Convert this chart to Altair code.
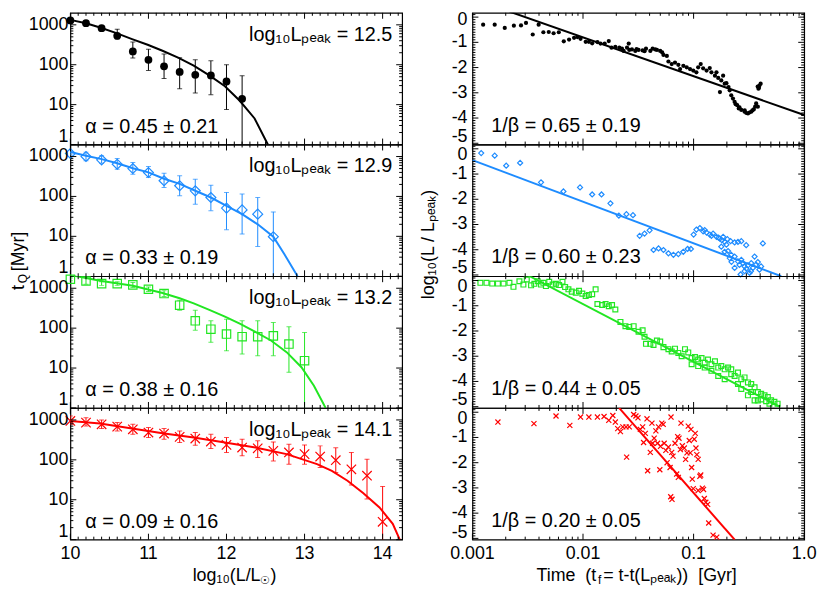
import altair as alt
import pandas as pd

FONT = "Liberation Sans"
PW, PH = 335, 133
COLORS = ["#000000", "#1E8CFF", "#22E622", "#FF0000"]

# ---------------- left column: t_Q [Myr] vs log10(L/Lsun) ----------------
lum_1 = [10.0, 10.2, 10.4, 10.6, 10.8, 11.0, 11.2, 11.4, 11.6, 11.8, 12.0, 12.2]
tq_1 = [1290, 1100, 825, 530, 215, 133, 91, 66, 56, 54, 38, 14]
tq_lo_1 = [1200, 1020, 760, 440, 147, 72, 45, 25, 19.6, 17.8, 7.5, 0.9]
tq_hi_1 = [1380, 1180, 890, 780, 370, 245, 185, 150, 133, 125, 100, 53]
fit_lum_1 = [10.0, 10.2, 10.38, 10.59, 10.79, 10.99, 11.18, 11.38, 11.58, 11.78, 11.98, 12.17, 12.36, 12.53]
fit_tq_1 = [1330, 1100, 860, 620, 440, 316, 224, 150, 95, 54, 29, 12.5, 4.5, 1.0]

lum_2 = [10.0, 10.2, 10.4, 10.6, 10.8, 11.0, 11.2, 11.4, 11.6, 11.8, 12.0, 12.2, 12.4, 12.6]
tq_2 = [1190, 1000, 826, 643, 500, 398, 247, 185, 138, 94, 51, 46, 36, 9.8]
tq_lo_2 = [1100, 780, 680, 480, 360, 300, 168, 104, 64, 44, 14.7, 11.4, 5.6, 0.9]
tq_hi_2 = [1300, 1290, 1040, 890, 710, 560, 383, 330, 270, 192, 126, 115, 94, 41]
fit_lum_2 = [10.0, 10.2, 10.4, 10.6, 10.8, 11.0, 11.2, 11.4, 11.6, 11.8, 12.0, 12.2, 12.4, 12.6, 12.74, 12.91]
fit_tq_2 = [1300, 1050, 860, 680, 510, 400, 277, 207, 139, 94, 58, 36, 20, 9.8, 3.6, 1.0]

lum_3 = [10.0, 10.2, 10.4, 10.6, 10.8, 11.0, 11.2, 11.4, 11.6, 11.8, 12.0, 12.2, 12.4, 12.6, 12.8, 13.0]
tq_3 = [1680, 1520, 1308, 1308, 1212, 944, 736, 376, 153, 94, 71, 61, 61, 64, 40, 15.3]
tq_lo_3 = [1550, 1260, 1180, 1180, 1050, 830, 620, 282, 89, 44, 27, 22.4, 20.3, 20.3, 7.8, 0.9]
tq_hi_3 = [1800, 1920, 1450, 1450, 1400, 1080, 870, 500, 282, 153, 168, 153, 153, 139, 108, 78]
fit_lum_3 = [10.0, 10.38, 10.8, 11.18, 11.4, 11.58, 11.78, 11.98, 12.17, 12.37, 12.57, 12.77, 12.96, 13.12, 13.27]
fit_tq_3 = [2150, 1550, 1150, 760, 562, 417, 288, 195, 129, 81, 49, 25, 10.5, 3.6, 1.0]

lum_4 = [10.0, 10.2, 10.4, 10.6, 10.8, 11.0, 11.2, 11.4, 11.6, 11.8, 12.0, 12.2, 12.4, 12.6,
         12.8, 13.0, 13.2, 13.4, 13.6, 13.8, 14.0]
tq_4 = [944, 858, 779, 681, 584, 482, 455, 376, 342, 287, 237, 203, 195, 168, 153, 139, 121, 98, 58, 40, 2.8]
tq_lo_4 = [780, 710, 607, 530, 437, 361, 330, 271, 232, 192, 153, 126, 114, 94, 78, 78, 64, 48, 23.3, 10.5, 0.9]
tq_hi_4 = [1260, 1140, 1000, 858, 780, 643, 607, 530, 482, 437, 361, 330, 299, 282, 247, 237, 224, 200, 153, 104, 21.5]
fit_lum_4 = [10.0, 10.38, 10.79, 11.18, 11.58, 11.98, 12.37, 12.77, 13.16, 13.35, 13.55, 13.75, 13.96, 14.13, 14.22]
fit_tq_4 = [944, 810, 607, 464, 361, 271, 203, 139, 78, 53, 30, 14.7, 6.4, 2.5, 1.0]

peak_labels = ["12.5", "12.9", "13.2", "14.1"]
alpha_labels = ["0.45 ± 0.21", "0.33 ± 0.19", "0.38 ± 0.16", "0.09 ± 0.16"]

# ---------------- right column: log10(L/Lpeak) vs time (t, Gyr) ----------------
decay_1 = [(0.00125, -0.30), (0.00159, -0.30), (0.00196, -0.43), (0.00237, -0.34), (0.00275, -0.33),
           (0.00305, -0.23), (0.00351, -0.69), (0.00397, -0.30), (0.00438, -0.60), (0.0049, -0.59),
           (0.00542, -0.64), (0.00604, -0.60), (0.0067, -0.96), (0.00748, -0.89), (0.0083, -0.82),
           (0.0089, -0.79), (0.0095, -0.86), (0.01057, -0.98), (0.0113, -0.98), (0.0121, -1.04),
           (0.0135, -0.99), (0.0144, -1.05), (0.0157, -1.05), (0.0171, -0.95), (0.0181, -1.21),
           (0.0196, -1.18), (0.0213, -1.21), (0.0225, -1.25), (0.0233, -1.34), (0.025, -1.21),
           (0.0259, -1.05), (0.0262, -1.30), (0.0277, -1.28), (0.0297, -1.34), (0.0305, -1.27),
           (0.0318, -1.30), (0.0346, -1.32), (0.036, -1.35), (0.0371, -1.25), (0.0406, -1.34),
           (0.0426, -1.25), (0.045, -1.28), (0.0466, -1.30), (0.0499, -1.34), (0.052, -1.40),
           (0.0534, -1.50), (0.0573, -1.54), (0.0592, -1.76), (0.0634, -1.86), (0.0679, -1.80),
           (0.0728, -1.89), (0.0755, -2.06), (0.0808, -1.93), (0.0866, -1.99), (0.0928, -2.06),
           (0.0993, -2.12), (0.106, -2.19), (0.110, -1.99), (0.116, -1.86), (0.122, -2.03),
           (0.131, -2.12), (0.140, -2.02), (0.145, -2.19), (0.156, -2.32), (0.161, -2.19),
           (0.167, -2.41), (0.173, -2.97), (0.178, -2.51), (0.185, -2.32), (0.191, -2.64),
           (0.198, -2.62), (0.207, -2.77), (0.212, -2.90), (0.219, -3.10), (0.227, -3.23),
           (0.235, -3.36), (0.24, -3.45), (0.248, -3.49), (0.256, -3.62), (0.26, -3.58),
           (0.270, -3.68), (0.289, -3.75), (0.29, -3.70), (0.30, -3.80), (0.310, -3.82),
           (0.32, -3.78), (0.332, -3.75), (0.34, -3.70), (0.350, -3.66), (0.36, -3.55),
           (0.368, -3.42), (0.381, -3.55), (0.38, -2.75), (0.386, -2.84), (0.39, -2.80),
           (0.394, -2.71), (0.404, -2.64)]
decay_2 = [(0.00120, -0.17), (0.00159, -0.27), (0.00202, -0.67), (0.00270, -0.56), (0.00417, -1.33),
           (0.00665, -1.69), (0.0094, -1.53), (0.0121, -1.81), (0.0147, -1.81), (0.0177, -2.16),
           (0.0211, -2.65), (0.0247, -2.59), (0.0283, -2.63), (0.0325, -3.45), (0.0360, -3.36),
           (0.0400, -3.23), (0.0434, -4.01), (0.0482, -3.95), (0.0534, -4.01), (0.0592, -4.14),
           (0.0657, -4.20), (0.0728, -4.17), (0.0807, -4.08), (0.0883, -3.97), (0.0946, -3.97),
           (0.100, -3.40), (0.106, -3.20), (0.114, -3.14), (0.122, -3.27), (0.131, -3.32),
           (0.140, -3.40), (0.150, -3.36), (0.161, -3.49), (0.173, -3.56), (0.178, -3.88),
           (0.185, -3.49), (0.191, -3.69), (0.202, -3.58), (0.205, -4.05), (0.212, -4.33),
           (0.216, -3.66), (0.219, -4.20), (0.235, -3.71), (0.235, -4.27), (0.252, -3.69),
           (0.252, -4.46), (0.266, -4.98), (0.270, -3.66), (0.270, -4.40), (0.279, -4.53),
           (0.289, -4.66), (0.289, -4.85), (0.299, -3.82), (0.310, -4.62), (0.321, -4.92),
           (0.332, -4.53), (0.344, -4.72), (0.356, -4.27), (0.368, -4.59), (0.381, -4.49),
           (0.394, -4.79), (0.408, -4.66), (0.423, -3.75), (0.191, -4.08), (0.235, -4.72),
           (0.198, -3.80), (0.26, -4.60), (0.30, -4.75), (0.33, -4.85), (0.22, -4.48),
           (0.18, -3.62), (0.145, -3.45), (0.126, -3.22), (0.168, -3.52)]
decay_3 = [(0.00118, -0.09), (0.00134, -0.09), (0.00151, -0.12), (0.00170, -0.12), (0.00191, -0.12),
           (0.00216, -0.09), (0.00235, -0.25), (0.00266, -0.03), (0.00289, -0.16), (0.00310, 0.04),
           (0.00339, -0.19), (0.00363, -0.13), (0.00389, -0.03), (0.00417, -0.16), (0.00438, -0.09),
           (0.00462, -0.22), (0.00495, -0.05), (0.00531, -0.16), (0.00568, -0.13), (0.00608, -0.18),
           (0.00652, -0.05), (0.00689, -0.26), (0.00738, -0.35), (0.00791, -0.44), (0.0086, -0.48),
           (0.0092, -0.41), (0.00986, -0.52), (0.01057, -0.61), (0.0113, -0.57), (0.0121, -0.54),
           (0.0130, -0.35), (0.0135, -0.93), (0.0149, -0.97), (0.0160, -0.93), (0.0171, -1.02),
           (0.0183, -0.97), (0.0196, -1.15), (0.0218, -1.64), (0.0242, -1.81), (0.0262, -1.84),
           (0.0287, -1.81), (0.0318, -2.03), (0.0346, -1.97), (0.0360, -2.23), (0.0371, -2.51),
           (0.0406, -2.51), (0.0434, -2.55), (0.0466, -2.38), (0.0499, -2.42), (0.0534, -2.64),
           (0.0592, -2.72), (0.0634, -2.81), (0.0679, -2.70), (0.0728, -2.87), (0.078, -3.00),
           (0.0836, -2.72), (0.0895, -2.85), (0.096, -3.07), (0.103, -3.03), (0.110, -3.13),
           (0.118, -3.07), (0.126, -3.26), (0.135, -3.13), (0.145, -3.32), (0.156, -3.20),
           (0.167, -3.45), (0.178, -3.39), (0.191, -3.52), (0.205, -3.45), (0.219, -3.71),
           (0.235, -3.78), (0.252, -3.65), (0.270, -3.91), (0.289, -3.84), (0.310, -4.04),
           (0.332, -4.10), (0.356, -4.23), (0.381, -4.42), (0.408, -4.49), (0.438, -4.55),
           (0.469, -4.62), (0.502, -4.75), (0.538, -4.81), (0.575, -4.88), (0.310, -4.55),
           (0.356, -4.75), (0.408, -4.71), (0.252, -4.10), (0.270, -4.30), (0.219, -3.52),
           (0.191, -3.91), (0.167, -3.78), (0.126, -3.45), (0.110, -3.39), (0.096, -3.32),
           (0.145, -3.58), (0.332, -4.42), (0.381, -4.75), (0.453, -4.78), (0.485, -4.88)]
decay_4 = [(0.0017, -0.39), (0.0036, -0.45), (0.0057, -0.15), (0.0076, -0.52), (0.0095, -0.19),
           (0.0113, -0.19), (0.0135, -0.19), (0.0155, -0.17), (0.0171, -0.32), (0.0186, -0.13),
           (0.0196, -0.39), (0.0206, -0.65), (0.0218, -0.77), (0.0229, -0.58), (0.0245, -0.58),
           (0.0248, -1.78), (0.0262, -0.58), (0.0287, -0.09), (0.0301, -0.15), (0.0314, -0.22),
           (0.033, -0.68), (0.0346, -0.58), (0.0353, -1.20), (0.0366, -0.84), (0.0379, -0.26),
           (0.0384, -2.32), (0.0406, -1.59), (0.042, -0.43), (0.0426, -1.23), (0.044, -1.03),
           (0.0456, -0.74), (0.0472, -1.23), (0.0482, -0.58), (0.0495, -2.28), (0.0502, -1.35),
           (0.0516, -0.43), (0.0531, -0.48), (0.0542, -1.23), (0.0561, -1.51), (0.0576, -2.00),
           (0.0592, -1.38), (0.0613, -2.19), (0.0625, -0.19), (0.0634, -1.59), (0.0652, -1.74),
           (0.0621, -3.35), (0.0638, -3.45), (0.0679, -1.23), (0.0703, -2.45), (0.0718, -0.97),
           (0.0728, -2.58), (0.0738, -1.03), (0.0759, -1.48), (0.0769, -0.43), (0.0791, -1.33),
           (0.0824, -1.42), (0.0847, -1.87), (0.0871, -1.61), (0.0895, -0.55), (0.0914, -1.12),
           (0.0933, -1.61), (0.0946, -0.68), (0.096, -2.19), (0.0973, -2.65), (0.0993, -3.03),
           (0.1014, -1.07), (0.1035, -0.84), (0.105, -1.42), (0.107, -1.68), (0.110, -1.87),
           (0.110, -3.10), (0.114, -2.54), (0.116, -2.49), (0.120, -3.01), (0.123, -3.06),
           (0.125, -3.42), (0.129, -3.57), (0.134, -3.65), (0.137, -4.39), (0.150, -4.87),
           (0.162, -4.95)]
fit_t_1, fit_l_1 = [0.00216, 1.0], [0.22, -3.88]
fit_t_2, fit_l_2 = [0.001, 0.62], [-0.45, -5.05]
fit_t_3, fit_l_3 = [0.00316, 0.60], [0.21, -5.0]
fit_t_4, fit_l_4 = [0.0212, 0.235], [0.17, -5.05]

beta_labels = ["0.65 ± 0.19", "0.60 ± 0.23", "0.44 ± 0.05", "0.20 ± 0.05"]

# ---------------- axis ticks and tick labels ----------------
LX_MAJOR = [10, 11, 12, 13, 14]
LX_LABELS = ["10", "11", "12", "13", "14"]
LX_MINOR = [round(10 + 0.1 * i, 1) for i in range(1, 43) if i % 10]
LY_MAJOR = [1, 10, 100, 1000]
LY_LABELS = ["1", "10", "100", "1000"]
LY_MINOR = [m * 10 ** e for e in range(0, 4) for m in range(2, 10) if m * 10 ** e < 2000]
RX_MAJOR = [0.001, 0.01, 0.1, 1.0]
RX_LABELS = ["0.001", "0.01", "0.1", "1.0"]
RX_MINOR = [m * 10.0 ** e for e in (-3, -2, -1) for m in range(2, 10)]
RY_MAJOR = [0, -1, -2, -3, -4, -5]
RY_LABELS = ["0", "-1", "-2", "-3", "-4", "-5"]
RY_MINOR = [round(-5 + 0.1 * i, 1) for i in range(1, 52) if i % 10]

LEFT = [
    (lum_1, tq_1, tq_lo_1, tq_hi_1, fit_lum_1, fit_tq_1),
    (lum_2, tq_2, tq_lo_2, tq_hi_2, fit_lum_2, fit_tq_2),
    (lum_3, tq_3, tq_lo_3, tq_hi_3, fit_lum_3, fit_tq_3),
    (lum_4, tq_4, tq_lo_4, tq_hi_4, fit_lum_4, fit_tq_4),
]
RIGHT = [(decay_1, fit_t_1, fit_l_1), (decay_2, fit_t_2, fit_l_2),
         (decay_3, fit_t_3, fit_l_3), (decay_4, fit_t_4, fit_l_4)]

X_PATH = "M-1,-1L1,1M-1,1L1,-1"


def marker(i, big):
    col = COLORS[i]
    if i == 0:
        return alt.Chart().mark_point(shape="circle", filled=True, color=col, opacity=1,
                                      size=62 if big else 18)
    shape = ["circle", "diamond", "square", X_PATH][i]
    size = [0, 100, 72, 90][i] if big else [0, 26, 24, 26][i]
    return alt.Chart().mark_point(shape=shape, filled=False, color=col, opacity=1,
                                  size=size, strokeWidth=1.2)


def edge_ticks(xs, ys, xmaj, xmin, ymaj, ymin):
    out = []
    for vals, ln in ((xmaj, 6), (xmin, 3)):
        base = alt.Chart(pd.DataFrame({"v": vals})).mark_rule(color="black", strokeWidth=1)
        xe = alt.X("v:Q", scale=xs, axis=None)
        out.append(base.encode(x=xe, y=alt.value(0), y2=alt.value(ln)))
        out.append(base.encode(x=xe, y=alt.value(PH - ln), y2=alt.value(PH)))
    for vals, ln in ((ymaj, 6), (ymin, 3)):
        base = alt.Chart(pd.DataFrame({"v": vals})).mark_rule(color="black", strokeWidth=1)
        ye = alt.Y("v:Q", scale=ys, axis=None)
        out.append(base.encode(y=ye, x=alt.value(0), x2=alt.value(ln)))
        out.append(base.encode(y=ye, x=alt.value(PW - ln), x2=alt.value(PW)))
    return out


def y_labels(ys, vals, labs, dx, dy_first, dy_last):
    """Tick labels left of the frame; labels on the frame edges are nudged inward."""
    groups = [(vals[:1], labs[:1], dy_first), (vals[1:-1], labs[1:-1], 0),
              (vals[-1:], labs[-1:], dy_last)]
    out = []
    for v, s, dy in groups:
        out.append(alt.Chart(pd.DataFrame({"v": v, "s": s})).mark_text(
            font=FONT, fontSize=18, align="right", baseline="middle", dx=dx, dy=dy,
            color="black").encode(y=alt.Y("v:Q", scale=ys, axis=None), x=alt.value(0),
                                  text="s:N"))
    return out


def x_labels(xs, vals, labs):
    return alt.Chart(pd.DataFrame({"v": vals, "s": labs})).mark_text(
        font=FONT, fontSize=18, align="center", baseline="top", dy=6, color="black"
    ).encode(x=alt.X("v:Q", scale=xs, axis=None), y=alt.value(PH), text="s:N")


def txt(s, x, y, size=20, align="left", angle=0):
    return alt.Chart(pd.DataFrame({"s": [s]})).mark_text(
        font=FONT, fontSize=size, align=align, baseline="middle", angle=angle, color="black"
    ).encode(text="s:N", x=alt.value(x), y=alt.value(y))


def left_panel(i):
    lum, tq, lo, hi, flum, ftq = LEFT[i]
    col = COLORS[i]
    xs = alt.Scale(domain=[10, 14.25], nice=False, zero=False)
    ys = alt.Scale(type="log", domain=[1, 2000], nice=False)
    pts = pd.DataFrame({"x": lum, "y": tq, "lo": lo, "hi": hi})
    fit = pd.DataFrame({"x": flum, "y": ftq})
    X = alt.X("x:Q", scale=xs, axis=None)
    layers = [alt.Chart(pts).mark_rule(color=col, strokeWidth=1, clip=True).encode(
        x=X, y=alt.Y("lo:Q", scale=ys, axis=None), y2="hi:Q")]
    for f in ("lo", "hi"):
        layers.append(alt.Chart(pts).mark_tick(color=col, orient="horizontal", size=5,
                                               thickness=1, clip=True).encode(
            x=X, y=alt.Y(f + ":Q", scale=ys, axis=None)))
    layers.append(alt.Chart(fit).mark_line(color=col, strokeWidth=2, clip=True).encode(
        x=X, y=alt.Y("y:Q", scale=ys, axis=None)))
    layers.append(marker(i, True).properties(data=pts).encode(
        x=X, y=alt.Y("y:Q", scale=ys, axis=None)))
    layers += edge_ticks(xs, ys, LX_MAJOR, LX_MINOR, LY_MAJOR, LY_MINOR)
    layers += y_labels(ys, LY_MAJOR, LY_LABELS, -2, -8, 0)
    layers.append(txt("log₁₀Lₚₑₐₖ = " + peak_labels[i], 325, 22, align="right"))
    layers.append(txt("α = " + alpha_labels[i], 15, 115))
    if i == 1:
        layers.append(txt("t", -52, 147, size=18, angle=270))
        layers.append(txt("Q", -48, 140, size=12, angle=270))
        layers.append(txt("[Myr]", -52, 128, size=18, angle=270))
    if i == 3:
        layers.append(x_labels(xs, LX_MAJOR, LX_LABELS))
        layers.append(txt("log₁₀(L/L", 192, 170, size=18, align="right"))
        layers.append(txt("☉", 197, 175, size=11, align="center"))
        layers.append(txt(")", 202, 170, size=18))
    return alt.layer(*layers).properties(width=PW, height=PH)


def right_panel(i):
    pairs, ft, fl = RIGHT[i]
    col = COLORS[i]
    xs = alt.Scale(type="log", domain=[0.001, 1.0], nice=False)
    ys = alt.Scale(domain=[-5.05, 0.17], nice=False, zero=False)
    pts = pd.DataFrame({"x": [p[0] for p in pairs], "y": [p[1] for p in pairs]})
    fit = pd.DataFrame({"x": ft, "y": fl})
    layers = [alt.Chart(fit).mark_line(color=col, strokeWidth=2, clip=True).encode(
        x=alt.X("x:Q", scale=xs, axis=None), y=alt.Y("y:Q", scale=ys, axis=None))]
    layers.append(marker(i, False).properties(data=pts).encode(
        x=alt.X("x:Q", scale=xs, axis=None), y=alt.Y("y:Q", scale=ys, axis=None)))
    layers += edge_ticks(xs, ys, RX_MAJOR, RX_MINOR, RY_MAJOR, RY_MINOR)
    # edge labels nudged apart where two panels meet
    dy_top = 3 if i == 0 else 6.5
    dy_bot = -5 if i == 3 else -6.5
    layers += y_labels(ys, RY_MAJOR, RY_LABELS, -5, dy_top, dy_bot)
    layers.append(txt("1/β = " + beta_labels[i], 19, 114))
    if i == 1:
        layers.append(txt("log₁₀(L / Lₚₑₐₖ)", -44, 101, size=18, align="center", angle=270))
    if i == 3:
        layers.append(x_labels(xs, RX_MAJOR, RX_LABELS))
        layers.append(txt("Time\u00a0\u00a0(t", 125, 170, size=18, align="right"))
        layers.append(txt("f", 128.5, 174, size=12, align="center"))
        layers.append(txt("\u00a0=\u00a0t-t(Lₚₑₐₖ))\u00a0\u00a0[Gyr]", 132, 170, size=18))
    return alt.layer(*layers).properties(width=PW, height=PH)


cells = []
for i in range(4):
    cells.append(left_panel(i))
    cells.append(right_panel(i))

chart = alt.concat(*cells, columns=2, spacing={"row": 0, "column": 71}, bounds="flush").properties(
    padding={"left": 1, "top": -1, "right": 4, "bottom": 2}
).configure_view(stroke="black", strokeWidth=1.2)

chart.save("out.html", embed_options={"renderer": "svg", "actions": False})
